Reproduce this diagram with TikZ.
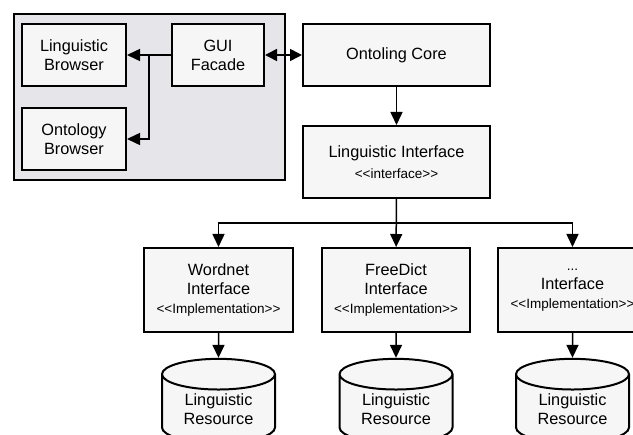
\documentclass[tikz,border=0pt]{standalone}
\usepackage{fontspec}
\setmainfont{Liberation Sans}
\usetikzlibrary{shapes.geometric,arrows.meta}

\definecolor{panel}{HTML}{E6E6EA}
\definecolor{boxfill}{HTML}{F6F6F6}
\newcommand{\bigtxt}{\fontsize{16.3}{19}\selectfont}
\newcommand{\smalltxt}{\fontsize{13.5}{17}\selectfont}
\newcommand{\stereo}[1]{{\smalltxt <\kern0pt<#1>\kern0pt>}}

\begin{document}
\begin{tikzpicture}[x=1pt, y=-1pt,
    group/.style={draw, line width=2pt, fill=panel},
    box/.style={rectangle, draw, line width=2pt, fill=boxfill, align=center, inner sep=0pt, font=\bigtxt},
    store/.style={cylinder, shape border rotate=90, aspect=0.44, draw, line width=2pt, fill=boxfill, align=center, inner sep=0pt, minimum width=113pt, minimum height=84pt, font=\bigtxt},
    arrow/.style={draw, line width=1.5pt, -{Triangle[length=13pt,width=12pt]}},
    dblarrow/.style={draw, line width=1.5pt, {Triangle[length=12pt,width=12pt]}-{Triangle[length=12pt,width=12pt]}}
]
\clip (0,0) rectangle (633,435);

% GUI panel
\path[group] (14,14) rectangle (285,180);

% Define boxes
\node[box, minimum width=104pt, minimum height=62pt] (lingbrowser) at (74,55) {Linguistic\\Browser};
\node[box, minimum width=104pt, minimum height=62pt] (ontobrowser) at (74,139) {Ontology\\Browser};
\node[box, minimum width=92pt, minimum height=62pt] (gui) at (218,55) {GUI\\Facade};
\node[box, minimum width=187pt, minimum height=62pt] (core) at (396.5,55) {Ontoling Core};
\node[box, minimum width=187pt, minimum height=72pt] (linginterface) at (396.5,162) {Linguistic Interface\\[2pt]\stereo{interface}};
\node[box, minimum width=149pt, minimum height=84pt] (wordnet) at (218.5,290) {Wordnet\\Interface\\\stereo{Implementation}};
\node[box, minimum width=148pt, minimum height=84pt] (freedict) at (396,290) {FreeDict\\Interface\\\stereo{Implementation}};
\node[box, minimum width=149pt, minimum height=84pt] (other) at (572.5,290) {{\smalltxt ...}\\Interface\\\stereo{Implementation}};

% Define resources
\node[store] (res1) at (218.5,409) {Linguistic\\Resource};
\node[store] (res2) at (396,409) {Linguistic\\Resource};
\node[store] (res3) at (572.5,409) {Linguistic\\Resource};

% Define junctions
\coordinate (split) at (149,55);
\coordinate (bus) at (396.5,223);

% Define edges
\path[arrow] (gui) -- (lingbrowser);
\path[arrow] (split) |- (ontobrowser);
\path[dblarrow] (gui) -- (core);
\path[arrow] (core) -- (linginterface);
\path[arrow] (linginterface) -- (freedict);
\path[arrow] (bus) -| (wordnet);
\path[arrow] (bus) -| (other);
\path[arrow] (wordnet) -- (res1);
\path[arrow] (freedict) -- (res2);
\path[arrow] (other) -- (res3);

\end{tikzpicture}
\end{document}
